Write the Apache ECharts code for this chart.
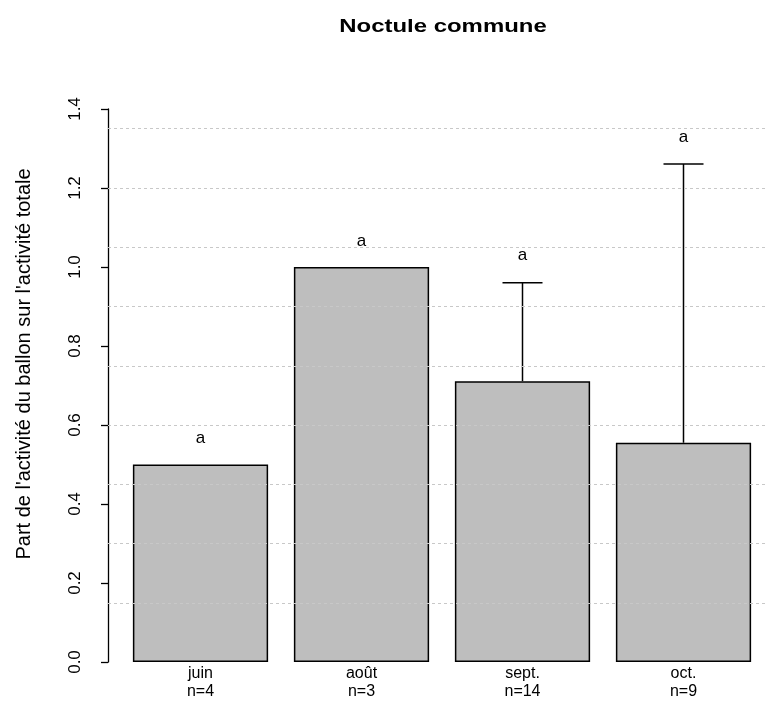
<!DOCTYPE html>
<html><head><meta charset="utf-8">
<script src="https://cdn.jsdelivr.net/npm/echarts@6/dist/echarts.min.js"></script>
<style>html,body{margin:0;padding:0;background:#fff}#c{width:767px;height:709px}</style>
</head><body><div id="c"></div>
<script>
const titleText = 'Noctule commune';
const yAxisName = "Part de l'activité du ballon sur l'activité totale";
const categories = ['juin', 'août', 'sept.', 'oct.'];
const nCounts = [4, 3, 14, 9];
const meanValues = [0.5, 1.0, 0.711, 0.555];
const upperValues = [null, null, 0.96, 1.261];
const letters = ['a', 'a', 'a', 'a'];
const letterValues = [0.567, 1.066, 1.03, 1.329];
const gridValues = [0.15, 0.3, 0.45, 0.6, 0.75, 0.9, 1.05, 1.2, 1.35];
const yTicks = { min: 0, max: 1.4, interval: 0.2 };

const FONT = '"Liberation Sans", Arial, sans-serif';
const chart = echarts.init(document.getElementById('c'));
chart.setOption({
  animation: false,
  backgroundColor: '#fff',
  graphic: [
    {
      type: 'text', x: 443, y: 27, scaleX: 1.33, z: 10,
      style: { text: titleText, font: 'bold 18px ' + FONT, fill: '#000', align: 'center', verticalAlign: 'middle' }
    },
    {
      type: 'text', x: 24, y: 364, rotation: Math.PI / 2, z: 10,
      style: { text: yAxisName, font: '20px ' + FONT, fill: '#000', align: 'center', verticalAlign: 'middle' }
    }
  ],
  grid: [
    { left: 120, right: 3, top: 109, bottom: 47 },
    { left: 108, right: 0, top: 109, bottom: 47 }
  ],
  xAxis: [
    {
      type: 'category', gridIndex: 0, data: categories,
      axisLine: { show: false }, axisTick: { show: false },
      axisLabel: {
        margin: 3, fontFamily: FONT, fontSize: 16, color: '#000', lineHeight: 18,
        formatter: (v, i) => v + '\nn=' + nCounts[i]
      }
    },
    { type: 'value', gridIndex: 1, show: false, min: 0, max: 1 }
  ],
  yAxis: [
    {
      type: 'value', gridIndex: 0, min: yTicks.min, max: yTicks.max, interval: yTicks.interval,
      offset: 12,
      axisLine: { show: true, lineStyle: { color: '#000', width: 1.3 } },
      axisTick: { show: true, length: 7, lineStyle: { color: '#000', width: 1.3 } },
      axisLabel: {
        rotate: 90, margin: 24, fontFamily: FONT, fontSize: 17, color: '#000',
        formatter: v => v.toFixed(1)
      },
      splitLine: { show: false }
    },
    { type: 'value', gridIndex: 1, show: false, min: yTicks.min, max: yTicks.max }
  ],
  series: [
    {
      type: 'line', xAxisIndex: 1, yAxisIndex: 1, data: [], silent: true, z: 0,
      markLine: {
        silent: true, symbol: 'none', label: { show: false },
        lineStyle: { color: '#c8c8c8', type: [3, 3], width: 1 },
        data: gridValues.map(v => ({ yAxis: v }))
      }
    },
    {
      type: 'bar', xAxisIndex: 0, yAxisIndex: 0, data: meanValues,
      barCategoryGap: '16%', z: 2,
      itemStyle: { color: '#bebebe', borderColor: '#000', borderWidth: 1.5 }
    },
    {
      type: 'custom', xAxisIndex: 0, yAxisIndex: 0, z: 3,
      data: categories.map((c, i) => [i, meanValues[i], upperValues[i]]),
      renderItem: function (params, api) {
        const up = api.value(2);
        if (up === null || up === undefined || isNaN(up)) return null;
        const base = api.coord([api.value(0), api.value(1)]);
        const top = api.coord([api.value(0), up]);
        const half = 20;
        return {
          type: 'group', children: [
            { type: 'line', shape: { x1: base[0], y1: base[1], x2: top[0], y2: top[1] }, style: { stroke: '#000', lineWidth: 1.5 } },
            { type: 'line', shape: { x1: top[0] - half, y1: top[1], x2: top[0] + half, y2: top[1] }, style: { stroke: '#000', lineWidth: 1.5 } }
          ]
        };
      }
    },
    {
      type: 'custom', xAxisIndex: 0, yAxisIndex: 0, z: 4,
      data: categories.map((c, i) => [i, letterValues[i]]),
      renderItem: function (params, api) {
        const p = api.coord([api.value(0), api.value(1)]);
        return {
          type: 'text', x: p[0], y: p[1],
          style: { text: letters[params.dataIndex], fill: '#000', font: '17px ' + FONT, align: 'center', verticalAlign: 'middle' }
        };
      }
    }
  ]
});
</script>
</body></html>
